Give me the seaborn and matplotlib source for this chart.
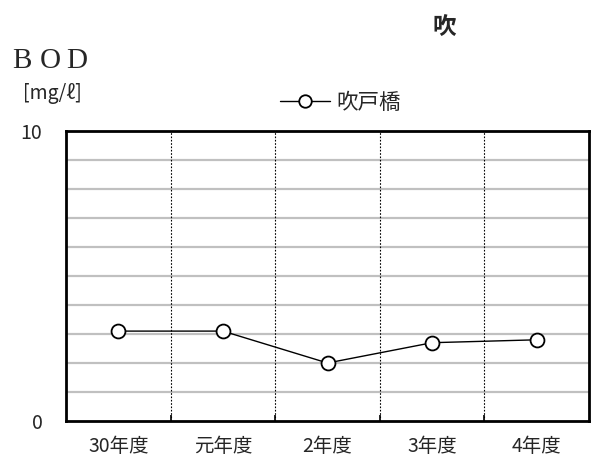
import matplotlib
matplotlib.use("Agg")
import matplotlib.pyplot as plt
import seaborn as sns
import pandas as pd
import numpy as np
from matplotlib.ticker import FixedLocator
from matplotlib.lines import Line2D

sns.set_theme(style="white")
plt.rcParams['font.family'] = ['Noto Sans CJK JP', 'DejaVu Sans']

# BOD annual means at 吹戸橋
years = ["30年度", "元年度", "2年度", "3年度", "4年度"]
bod = [3.1, 3.1, 2.0, 2.7, 2.8]
station = "吹戸橋"

df = pd.DataFrame({"year": years, "bod": bod, "station": station})

W, H = 591, 458
fig = plt.figure(figsize=(W / 100, H / 100), dpi=100)
ax = fig.add_axes([66 / W, 37 / H, 523 / W, 290 / H])

sns.lineplot(data=df, x="year", y="bod", ax=ax, color="black", linewidth=1,
             marker="o", markersize=10, markerfacecolor="white",
             markeredgecolor="black", markeredgewidth=1.3, legend=False,
             zorder=5)

ax.set_xlim(-0.5, len(years) - 0.5)
ax.set_ylim(0, 10)

# horizontal grid every 1 mg/l
for v in range(1, 10):
    ax.axhline(v, color="#c0c0c0", linewidth=1.6, zorder=1)
# dotted separators between fiscal years
for b in np.arange(0.5, len(years) - 0.5, 1):
    ax.axvline(b, color="black", linewidth=0.8, linestyle=(0, (1.5, 1.5)), zorder=2)

ax.set_yticks([0, 10])
ax.set_yticklabels(["0", "10"], fontsize=14)
ax.tick_params(axis="y", length=0, pad=17)
ax.set_xticks(range(len(years)))
ax.set_xticklabels(years, fontsize=14)
ax.tick_params(axis="x", which="major", length=0, pad=11)
ax.xaxis.set_minor_locator(FixedLocator(np.arange(0.5, len(years) - 0.5, 1)))
ax.tick_params(axis="x", which="minor", direction="in", length=4, width=1.2,
               color="black", bottom=True)
ax.set_xlabel("")
ax.set_ylabel("")

for s in ax.spines.values():
    s.set_visible(True)
    s.set_color("black")
    s.set_linewidth(2)

# legend
h = Line2D([], [], color="black", linewidth=1, marker="o", markersize=9,
           markerfacecolor="white", markeredgecolor="black", markeredgewidth=1.3)
fig.legend([h], [station], loc="center left", bbox_to_anchor=(280 / W, 1 - 103 / H),
           frameon=False, fontsize=15.5, handlelength=2.3, handletextpad=0.33,
           borderpad=0, borderaxespad=0)

fig.text(444 / W, 1 - 27 / H, "吹", fontsize=17, fontweight="bold",
         ha="center", va="center")
for ch, cx in zip("BOD", [22, 50, 77]):
    fig.text(cx / W, 1 - 61 / H, ch, fontsize=21,
             family=["Liberation Serif"], ha="center", va="center")
fig.text(23 / W, 1 - 94 / H, "[mg/ℓ]", fontsize=14, ha="left", va="center")

fig.savefig("out.png", dpi=100, facecolor="white")
